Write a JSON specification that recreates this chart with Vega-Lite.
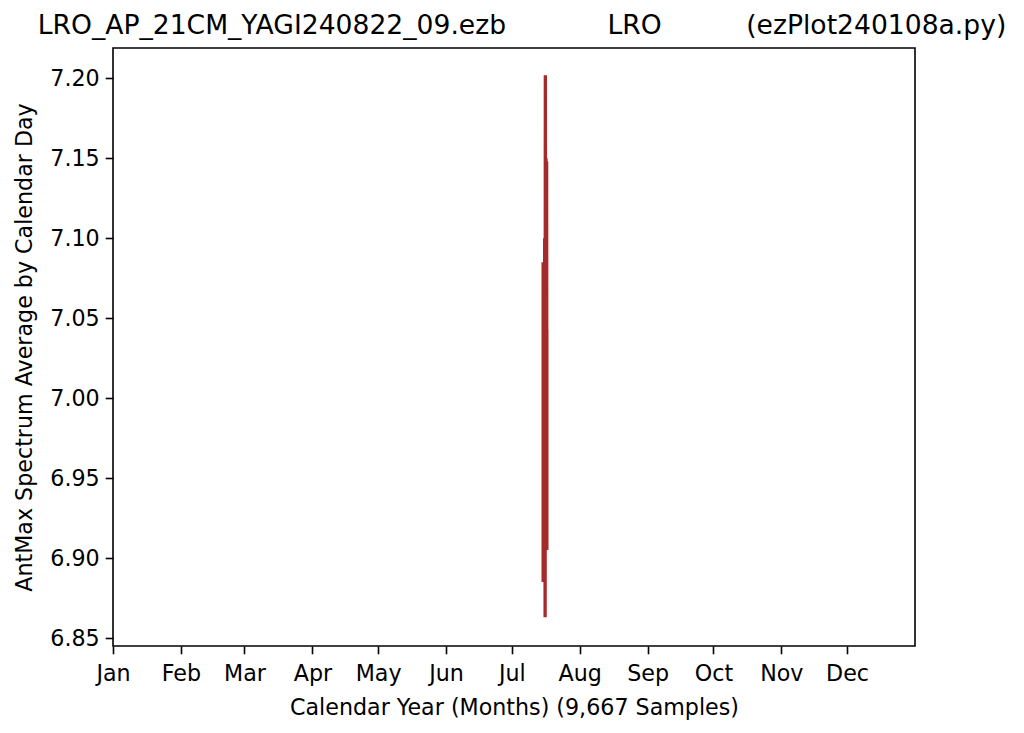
{
  "$schema": "https://vega.github.io/schema/vega-lite/v6.json",
  "autosize": "none",
  "padding": {"left": 113, "top": 48, "right": 109, "bottom": 87},
  "width": 802,
  "height": 598,
  "background": "white",
  "config": {
    "font": "DejaVu Sans",
    "view": {"stroke": "black", "strokeWidth": 1.6},
    "axis": {"grid": false, "domain": false, "tickColor": "black", "tickSize": 7.8, "tickWidth": 1.6, "labelColor": "black", "titleColor": "black", "labelFont": "DejaVu Sans", "titleFont": "DejaVu Sans", "labelFontSize": 22.2, "titleFontSize": 22.2, "titleFontWeight": "normal"}
  },
  "title": {
    "text": "LRO_AP_21CM_YAGI240822_09.ezb\u00a0\u00a0\u00a0\u00a0\u00a0\u00a0\u00a0\u00a0\u00a0\u00a0\u00a0\u00a0LRO\u00a0\u00a0\u00a0\u00a0\u00a0\u00a0\u00a0\u00a0\u00a0\u00a0(ezPlot240108a.py)",
    "font": "DejaVu Sans",
    "fontSize": 26.6,
    "fontWeight": "normal",
    "color": "black",
    "anchor": "middle",
    "dx": 8,
    "offset": 8
  },
  "data": {
    "values": [
      {"i": 1, "day": 196.3, "v": 7.085},
      {"i": 2, "day": 196.3, "v": 6.885},
      {"i": 3, "day": 196.6, "v": 7.05},
      {"i": 4, "day": 196.8, "v": 6.92},
      {"i": 5, "day": 197.0, "v": 7.10},
      {"i": 6, "day": 197.2, "v": 6.863},
      {"i": 7, "day": 197.3, "v": 7.202},
      {"i": 8, "day": 197.5, "v": 6.95},
      {"i": 9, "day": 197.6, "v": 7.15},
      {"i": 10, "day": 197.8, "v": 6.905},
      {"i": 11, "day": 197.9, "v": 7.148},
      {"i": 12, "day": 198.0, "v": 6.905},
      {"i": 13, "day": 198.0, "v": 7.043},
      {"i": 14, "day": 198.0, "v": 6.95}
    ]
  },
  "mark": {"type": "line", "color": "#a52a2a", "strokeWidth": 3.3, "clip": true},
  "encoding": {
    "x": {
      "field": "day", "type": "quantitative",
      "scale": {"domain": [0, 366], "nice": false, "zero": false},
      "axis": {
        "values": [0, 31, 60, 91, 121, 152, 182, 213, 244, 274, 305, 335],
        "labelExpr": "['Jan','Feb','Mar','Apr','May','Jun','Jul','Aug','Sep','Oct','Nov','Dec'][indexof([0,31,60,91,121,152,182,213,244,274,305,335], datum.value)]",
        "title": "Calendar Year (Months) (9,667 Samples)",
        "labelPadding": 9,
        "titlePadding": 11,
        "labelFlush": false
      }
    },
    "y": {
      "field": "v", "type": "quantitative",
      "scale": {"domain": [6.845, 7.219], "nice": false, "zero": false},
      "axis": {
        "values": [6.85, 6.9, 6.95, 7.0, 7.05, 7.1, 7.15, 7.2],
        "format": ".2f",
        "title": "AntMax Spectrum Average by Calendar Day",
        "labelPadding": 6,
        "titlePadding": 13
      }
    },
    "order": {"field": "i", "type": "quantitative"}
  }
}
